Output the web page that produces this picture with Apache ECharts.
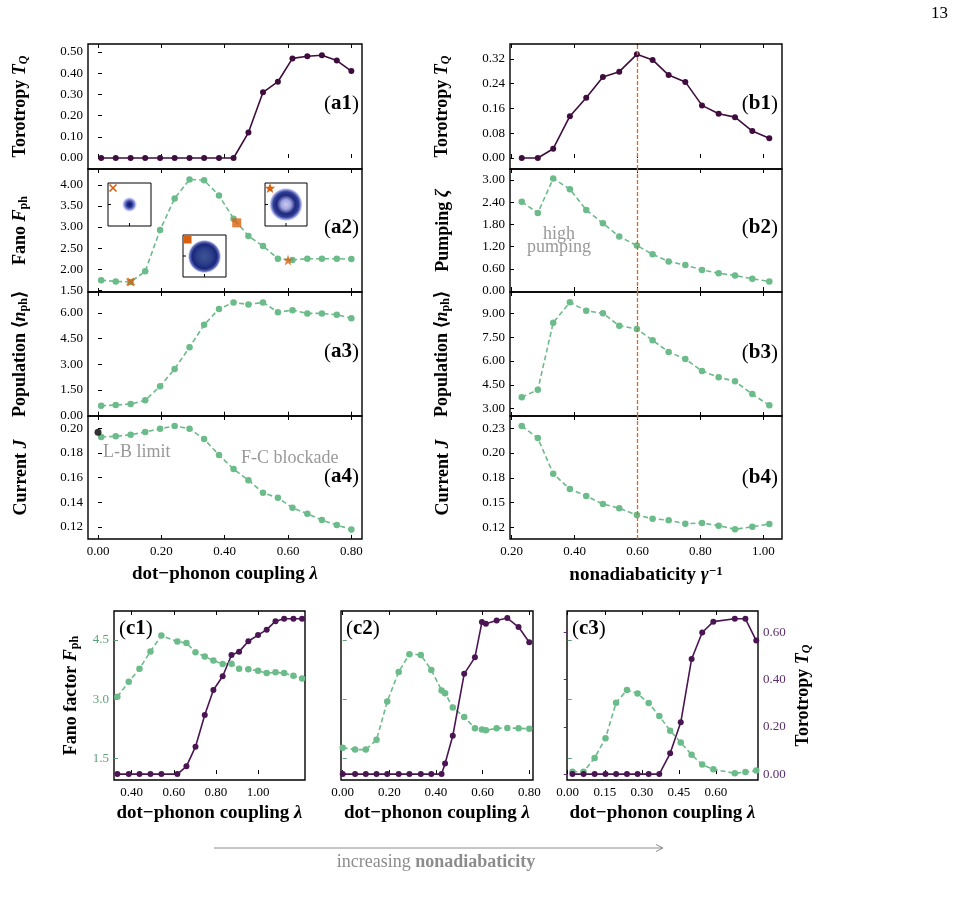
<!DOCTYPE html>
<html lang="en">
<head>
<meta charset="UTF-8">
<title>Torotropy panels</title>
<style>
    html, body { margin: 0; padding: 0; background: #fff; }
    #chart { width: 955px; height: 897px; }
</style>
</head>
<body>
<div id="chart"></div>
<script src="https://cdn.jsdelivr.net/npm/echarts@6/dist/echarts.min.js"></script>
<script>
// ---- data: column a (vs dot-phonon coupling) ----
var aLambda = [0.01, 0.056, 0.103, 0.149, 0.196, 0.242, 0.289, 0.335, 0.382, 0.428, 0.475, 0.521, 0.568, 0.614, 0.661, 0.707, 0.754, 0.80];
var aTorotropy = [0, 0, 0, 0, 0, 0, 0, 0, 0, 0, 0.12, 0.31, 0.36, 0.47, 0.48, 0.485, 0.46, 0.41];
var aFano = [1.74, 1.71, 1.70, 1.95, 2.93, 3.68, 4.13, 4.11, 3.75, 3.20, 2.79, 2.55, 2.25, 2.22, 2.25, 2.25, 2.25, 2.24];
var aPopulation = [0.58, 0.62, 0.68, 0.90, 1.72, 2.73, 4.00, 5.31, 6.24, 6.62, 6.50, 6.62, 6.05, 6.17, 5.98, 5.98, 5.90, 5.70];
var aCurrent = [0.1930, 0.1935, 0.1948, 0.1970, 0.1997, 0.2019, 0.1997, 0.1913, 0.1784, 0.1670, 0.1580, 0.1477, 0.1437, 0.1356, 0.1307, 0.1256, 0.1216, 0.1180];
var lbLimit = [0.0, 0.1968];
var stateCross = [0.103, 1.70];
var stateSquare = [0.438, 3.10];
var stateStar = [0.60, 2.22];

// ---- data: column b (vs nonadiabaticity) ----
var bGammaInv = [0.232, 0.283, 0.332, 0.385, 0.437, 0.490, 0.542, 0.598, 0.648, 0.699, 0.752, 0.805, 0.858, 0.910, 0.965, 1.019];
var bTorotropy = [0, 0, 0.030, 0.135, 0.195, 0.262, 0.279, 0.335, 0.317, 0.268, 0.246, 0.170, 0.143, 0.132, 0.087, 0.064];
var bPumping = [2.41, 2.11, 3.04, 2.75, 2.19, 1.83, 1.47, 1.23, 0.99, 0.80, 0.70, 0.57, 0.48, 0.42, 0.33, 0.26];
var bPopulation = [3.72, 4.19, 8.41, 9.69, 9.16, 9.00, 8.22, 8.01, 7.30, 6.57, 6.13, 5.37, 4.98, 4.72, 3.92, 3.21];
var bCurrent = [0.2273, 0.2152, 0.1791, 0.1636, 0.1566, 0.1485, 0.1442, 0.1374, 0.1337, 0.1321, 0.1287, 0.1294, 0.1267, 0.1230, 0.1256, 0.1283];
var bMarkedGamma = 0.6;

// ---- data: row c ----
var c1Lambda = [0.332, 0.386, 0.437, 0.489, 0.541, 0.617, 0.660, 0.703, 0.747, 0.788, 0.832, 0.874, 0.910, 0.954, 1.000, 1.041, 1.083, 1.124, 1.168, 1.209];
var c1Fano = [3.06, 3.44, 3.77, 4.21, 4.61, 4.46, 4.42, 4.19, 4.08, 3.98, 3.89, 3.90, 3.77, 3.76, 3.72, 3.66, 3.68, 3.66, 3.59, 3.52];
var c1Torotropy = [0, 0, 0, 0, 0, 0, 0.033, 0.116, 0.250, 0.356, 0.414, 0.504, 0.518, 0.562, 0.588, 0.611, 0.647, 0.657, 0.657, 0.657];

var c2Lambda = [0, 0.053, 0.099, 0.145, 0.191, 0.240, 0.286, 0.335, 0.380, 0.424, 0.439, 0.472, 0.521, 0.567, 0.597, 0.614, 0.660, 0.706, 0.754, 0.80];
var c2Fano = [1.77, 1.72, 1.72, 1.97, 2.94, 3.69, 4.14, 4.12, 3.74, 3.22, 3.15, 2.79, 2.55, 2.26, 2.23, 2.21, 2.26, 2.27, 2.26, 2.25];
var c2Torotropy = [0, 0, 0, 0, 0, 0, 0, 0, 0, 0, 0.045, 0.162, 0.424, 0.494, 0.643, 0.636, 0.650, 0.660, 0.622, 0.558];

var c3Lambda = [0.019, 0.064, 0.109, 0.153, 0.196, 0.240, 0.283, 0.328, 0.371, 0.415, 0.458, 0.502, 0.545, 0.590, 0.677, 0.720, 0.764];
var c3Fano = [1.16, 1.16, 1.51, 2.01, 2.91, 3.23, 3.14, 2.90, 2.57, 2.20, 1.90, 1.59, 1.34, 1.22, 1.12, 1.15, 1.19];
var c3Torotropy = [0, 0, 0, 0, 0, 0, 0, 0, 0, 0.088, 0.219, 0.487, 0.599, 0.645, 0.657, 0.657, 0.565];

// ---- tick values ----
var aLambdaTicks = [0, 0.2, 0.4, 0.6, 0.8];
var aTorTicks = [0, 0.1, 0.2, 0.3, 0.4, 0.5];
var aFanoTicks = [1.5, 2.0, 2.5, 3.0, 3.5, 4.0];
var aPopTicks = [0, 1.5, 3.0, 4.5, 6.0];
var aCurTicks = [0.12, 0.14, 0.16, 0.18, 0.20];
var bGammaTicks = [0.2, 0.4, 0.6, 0.8, 1.0];
var bTorTicks = [0, 0.08, 0.16, 0.24, 0.32];
var bPumpTicks = [0, 0.6, 1.2, 1.8, 2.4, 3.0];
var bPopTicks = [3.0, 4.5, 6.0, 7.5, 9.0];
var bCurTicks = [0.125, 0.15, 0.175, 0.2, 0.225];
var bCurLabels = ['0.12', '0.15', '0.18', '0.20', '0.23'];
var c1LambdaTicks = [0.4, 0.6, 0.8, 1.0];
var c2LambdaTicks = [0, 0.2, 0.4, 0.6, 0.8];
var c3LambdaTicks = [0, 0.15, 0.30, 0.45, 0.60];
var cFanoTicks = [1.5, 3.0, 4.5];
var cTorTicks = [0, 0.2, 0.4, 0.6];

var FONT = 'Liberation Serif';
var GREEN = '#6cbb8a';
var GREEN_TXT = '#5f9f78';
var PURPLE = '#3e0d3e';
var PURPLE_C = '#4a1552';
var PURPLE_TXT = '#5b2d6b';
var ORANGE = '#d9600f';
var GRAY = '#999999';

function zip(xs, ys) {
    return xs.map(function (x, i) { return [x, ys[i]]; });
}
function fmt2(v) { return v.toFixed(2); }
function fmt1(v) { return v.toFixed(1); }

function nameStyle(size) {
    var s = size;
    var sub = Math.round(s * 0.68);
    return {
        fontFamily: FONT, fontSize: s, fontWeight: 'bold', color: '#000',
        rich: {
            b: {fontFamily: FONT, fontSize: s, fontWeight: 'bold', color: '#000'},
            i: {fontFamily: FONT, fontSize: s, fontStyle: 'italic', color: '#000'},
            m: {fontFamily: FONT, fontSize: s, color: '#000'},
            s: {fontFamily: FONT, fontSize: sub, color: '#000', verticalAlign: 'bottom', padding: [7, 0, 0, 0]},
            si: {fontFamily: FONT, fontSize: sub, fontStyle: 'italic', color: '#000', verticalAlign: 'bottom', padding: [7, 0, 0, 0]},
            sup: {fontFamily: FONT, fontSize: sub, color: '#000', verticalAlign: 'top', padding: [0, 0, 7, 0]}
        }
    };
}

var grids = [], xAxes = [], yAxes = [], series = [], graphics = [];

function addGrid(left, top, width, height) {
    grids.push({show: true, left: left, top: top, width: width, height: height,
        borderColor: '#000', borderWidth: 1.4, backgroundColor: 'transparent'});
    return grids.length - 1;
}

function addX(gi, min, max, ticks, o) {
    o = o || {};
    var tick = {show: true, inside: true, length: 4, customValues: ticks, lineStyle: {color: '#000', width: 1}};
    xAxes.push({
        gridIndex: gi, type: 'value', position: 'bottom', min: min, max: max,
        splitLine: {show: false}, axisLine: {show: false}, axisTick: tick,
        axisLabel: {show: !!o.labels, customValues: ticks, formatter: o.formatter || fmt2,
            fontFamily: FONT, fontSize: 13, color: '#000', margin: 6},
        name: o.name || '', nameLocation: 'middle', nameGap: o.nameGap || 26, nameTextStyle: nameStyle(19)
    });
    var idx = xAxes.length - 1;
    xAxes.push({
        gridIndex: gi, type: 'value', position: 'top', min: min, max: max,
        splitLine: {show: false}, axisLine: {show: false}, axisTick: tick, axisLabel: {show: false}
    });
    return idx;
}

function addY(gi, min, max, ticks, o) {
    o = o || {};
    var fmt = o.formatter || fmt2;
    yAxes.push({
        gridIndex: gi, type: 'value', position: o.position || 'left', min: min, max: max,
        splitLine: {show: false}, axisLine: {show: false},
        axisTick: {show: true, inside: true, length: 4, customValues: ticks,
            lineStyle: {color: o.tickColor || '#000', width: 1}},
        axisLabel: {show: o.labels !== false, customValues: ticks, formatter: fmt,
            fontFamily: FONT, fontSize: 13, color: o.labelColor || '#000', margin: 5},
        name: o.name || '', nameLocation: 'middle', nameRotate: 90, nameGap: o.nameGap || 58,
        nameTextStyle: nameStyle(18)
    });
    return yAxes.length - 1;
}

function solid(xi, yi, data, color) {
    series.push({type: 'line', xAxisIndex: xi, yAxisIndex: yi, data: data, silent: true,
        symbol: 'circle', symbolSize: 6, showSymbol: true, z: 3,
        lineStyle: {color: color, width: 1.6}, itemStyle: {color: color}});
    return series[series.length - 1];
}
function dashed(xi, yi, data) {
    series.push({type: 'line', xAxisIndex: xi, yAxisIndex: yi, data: data, silent: true,
        symbol: 'circle', symbolSize: 6.5, showSymbol: true, z: 3,
        lineStyle: {color: GREEN, width: 1.6, type: [5, 3]}, itemStyle: {color: GREEN}});
    return series[series.length - 1];
}
function marker(xi, yi, point, symbol, size, color) {
    series.push({type: 'scatter', xAxisIndex: xi, yAxisIndex: yi, data: [point], silent: true,
        symbol: symbol, symbolSize: size, z: 5, itemStyle: {color: color}});
}

var CROSS = 'path://M2,0 L5,3 L8,0 L10,2 L7,5 L10,8 L8,10 L5,7 L2,10 L0,8 L3,5 L0,2 Z';
var STAR = 'path://M50,0 L61,35 L98,35 L68,57 L79,91 L50,70 L21,91 L32,57 L2,35 L39,35 Z';

// ---- column a ----
var aX = [-0.0316, 0.8336];
var aTop = [44, 169, 292, 416], aH = [125, 123, 124, 123];
var ga = aTop.map(function (t, i) { return addGrid(88, t, 274, aH[i]); });
var xa1 = addX(ga[0], aX[0], aX[1], aLambdaTicks);
var xa2 = addX(ga[1], aX[0], aX[1], aLambdaTicks);
var xa3 = addX(ga[2], aX[0], aX[1], aLambdaTicks);
var xa4 = addX(ga[3], aX[0], aX[1], aLambdaTicks, {labels: true, name: '{b|dot−phonon coupling }{i|λ}'});
var ya1 = addY(ga[0], -0.052, 0.538, aTorTicks, {name: '{b|Torotropy }{i|T}{si|Q}'});
var ya2 = addY(ga[1], 1.46, 4.377, aFanoTicks, {name: '{b|Fano }{i|F}{s|ph}'});
var ya3 = addY(ga[2], -0.02, 7.23, aPopTicks, {name: '{b|Population }{m|⟨}{i|n}{s|ph}{m|⟩}'});
var ya4 = addY(ga[3], 0.1103, 0.21, aCurTicks, {name: '{b|Current }{i|J}'});

solid(xa1, ya1, zip(aLambda, aTorotropy), PURPLE);
dashed(xa2, ya2, zip(aLambda, aFano));
dashed(xa3, ya3, zip(aLambda, aPopulation));
dashed(xa4, ya4, zip(aLambda, aCurrent));
marker(xa2, ya2, stateCross, CROSS, 9, ORANGE);
marker(xa2, ya2, stateSquare, 'rect', 9, ORANGE);
marker(xa2, ya2, stateStar, STAR, 11, ORANGE);
marker(xa4, ya4, lbLimit, 'circle', 7, '#000');

// ---- column b ----
var bX = [0.1946, 1.0594];
var gb = aTop.map(function (t, i) { return addGrid(510, t, 272, aH[i]); });
var xb1 = addX(gb[0], bX[0], bX[1], bGammaTicks);
var xb2 = addX(gb[1], bX[0], bX[1], bGammaTicks);
var xb3 = addX(gb[2], bX[0], bX[1], bGammaTicks);
var xb4 = addX(gb[3], bX[0], bX[1], bGammaTicks, {labels: true, name: '{b|nonadiabaticity }{i|γ}{sup|−1}'});
var yb1 = addY(gb[0], -0.0356, 0.3685, bTorTicks, {name: '{b|Torotropy }{i|T}{si|Q}'});
var yb2 = addY(gb[1], -0.027, 3.297, bPumpTicks, {name: '{b|Pumping }{i|ζ}'});
var yb3 = addY(gb[2], 2.54, 10.34, bPopTicks, {name: '{b|Population }{m|⟨}{i|n}{s|ph}{m|⟩}'});
var yb4 = addY(gb[3], 0.1132, 0.2374, bCurTicks, {name: '{b|Current }{i|J}',
    formatter: function (v) { return bCurLabels[bCurTicks.indexOf(v)] || fmt2(v); }});

var vline = {silent: true, symbol: ['none', 'none'], label: {show: false},
    lineStyle: {type: [4, 2], color: '#e06a14', width: 1.3, opacity: 1}, data: [{xAxis: bMarkedGamma}]};
solid(xb1, yb1, zip(bGammaInv, bTorotropy), PURPLE).markLine = vline;
dashed(xb2, yb2, zip(bGammaInv, bPumping)).markLine = vline;
dashed(xb3, yb3, zip(bGammaInv, bPopulation)).markLine = vline;
dashed(xb4, yb4, zip(bGammaInv, bCurrent)).markLine = vline;

// ---- row c ----
var cFanoRange = [0.95, 5.234], cTorRange = [-0.025, 0.690];
var gc1 = addGrid(114, 611, 191, 169);
var gc2 = addGrid(341, 611, 192, 169);
var gc3 = addGrid(567, 611, 191, 169);
var cName = '{b|dot−phonon coupling }{i|λ}';
var xc1 = addX(gc1, 0.316, 1.223, c1LambdaTicks, {labels: true, name: cName, nameGap: 24});
var xc2 = addX(gc2, -0.0073, 0.816, c2LambdaTicks, {labels: true, name: cName, nameGap: 24});
var xc3 = addX(gc3, -0.003, 0.771, c3LambdaTicks, {labels: true, name: cName, nameGap: 24});
var yc1 = addY(gc1, cFanoRange[0], cFanoRange[1], cFanoTicks, {formatter: fmt1, labelColor: GREEN_TXT, tickColor: GREEN_TXT,
    name: '{b|Fano factor }{i|F}{s|ph}', nameGap: 33});
var yc1r = addY(gc1, cTorRange[0], cTorRange[1], cTorTicks, {position: 'right', labels: false, tickColor: 'transparent'});
var yc2 = addY(gc2, cFanoRange[0], cFanoRange[1], cFanoTicks, {labels: false, tickColor: GREEN_TXT});
var yc2r = addY(gc2, cTorRange[0], cTorRange[1], cTorTicks, {position: 'right', labels: false, tickColor: 'transparent'});
var yc3 = addY(gc3, cFanoRange[0], cFanoRange[1], cFanoTicks, {labels: false, tickColor: GREEN_TXT});
var yc3r = addY(gc3, cTorRange[0], cTorRange[1], cTorTicks, {position: 'right', labelColor: PURPLE_TXT, tickColor: PURPLE_TXT,
    name: '{b|Torotropy }{i|T}{si|Q}', nameGap: 36});

dashed(xc1, yc1, zip(c1Lambda, c1Fano));
solid(xc1, yc1r, zip(c1Lambda, c1Torotropy), PURPLE_C);
dashed(xc2, yc2, zip(c2Lambda, c2Fano));
solid(xc2, yc2r, zip(c2Lambda, c2Torotropy), PURPLE_C);
dashed(xc3, yc3, zip(c3Lambda, c3Fano));
solid(xc3, yc3r, zip(c3Lambda, c3Torotropy), PURPLE_C);

// ---- annotations ----
function panelLabel(x, y, tag, align) {
    graphics.push({type: 'text', x: x, y: y, z: 50, silent: true, style: {
        text: '{p|(}{b|' + tag + '}{p|)}', align: align, verticalAlign: 'middle',
        rich: {p: {fontFamily: FONT, fontSize: 21, fill: '#000'},
            b: {fontFamily: FONT, fontSize: 21, fontWeight: 'bold', fill: '#000'}}
    }});
}
panelLabel(359, 104, 'a1', 'right');
panelLabel(359, 228, 'a2', 'right');
panelLabel(359, 352, 'a3', 'right');
panelLabel(359, 477, 'a4', 'right');
panelLabel(778, 104, 'b1', 'right');
panelLabel(778, 228, 'b2', 'right');
panelLabel(778, 353, 'b3', 'right');
panelLabel(778, 478, 'b4', 'right');
panelLabel(119, 629, 'c1', 'left');
panelLabel(346, 629, 'c2', 'left');
panelLabel(572, 629, 'c3', 'left');

function note(x, y, text, align, extra) {
    graphics.push({type: 'text', x: x, y: y, z: 50, silent: true, style: Object.assign({
        text: text, align: align, verticalAlign: 'middle', fontFamily: FONT, fontSize: 18, fill: GRAY
    }, extra || {})});
}
note(103, 452, 'L-B limit', 'left');
note(241, 458, 'F-C blockade', 'left');
note(559, 234, 'high', 'center');
note(559, 247, 'pumping', 'center');
note(948, 14, '13', 'right', {fill: '#000', fontSize: 17});

// insets in (a2)
function inset(x, y, w, h, cx, cy, r, stops) {
    graphics.push({type: 'rect', z: 40, silent: true, shape: {x: x, y: y, width: w, height: h},
        style: {fill: '#fff', stroke: '#000', lineWidth: 1}});
    graphics.push({type: 'circle', z: 41, silent: true, shape: {cx: cx, cy: cy, r: r},
        style: {fill: {type: 'radial', x: 0.5, y: 0.5, r: 0.5, colorStops: stops}}});
    graphics.push({type: 'line', z: 42, silent: true, shape: {x1: x + w / 2, y1: y + h, x2: x + w / 2, y2: y + h - 3},
        style: {stroke: '#000', lineWidth: 1}});
    graphics.push({type: 'line', z: 42, silent: true, shape: {x1: x, y1: y + h / 2, x2: x + 3, y2: y + h / 2},
        style: {stroke: '#000', lineWidth: 1}});
}
inset(108, 183, 43, 43, 129.5, 204.5, 8, [
    {offset: 0, color: '#0b1258'}, {offset: 0.35, color: '#26379a'},
    {offset: 0.7, color: '#9aa2e0'}, {offset: 1, color: 'rgba(240,240,255,0)'}]);
inset(183, 235, 43, 42, 204.5, 256.5, 17, [
    {offset: 0, color: '#3d5592'}, {offset: 0.45, color: '#2c3f8a'},
    {offset: 0.72, color: '#1a267a'}, {offset: 0.88, color: '#6673c0'}, {offset: 1, color: 'rgba(235,235,255,0)'}]);
inset(265, 183, 42, 43, 286, 204.5, 17, [
    {offset: 0, color: '#c9c9f2'}, {offset: 0.28, color: '#a2a6e0'},
    {offset: 0.55, color: '#1c287c'}, {offset: 0.75, color: '#2f3e98'},
    {offset: 0.9, color: '#a9aee6'}, {offset: 1, color: 'rgba(240,240,255,0)'}]);

// small state markers inside the insets
graphics.push({type: 'line', z: 45, silent: true, shape: {x1: 109.5, y1: 184.5, x2: 116.5, y2: 191.5}, style: {stroke: ORANGE, lineWidth: 1.6}});
graphics.push({type: 'line', z: 45, silent: true, shape: {x1: 116.5, y1: 184.5, x2: 109.5, y2: 191.5}, style: {stroke: ORANGE, lineWidth: 1.6}});
graphics.push({type: 'rect', z: 45, silent: true, shape: {x: 183.5, y: 235.5, width: 8, height: 8}, style: {fill: ORANGE}});
(function () {
    var pts = [], cx = 270, cy = 188.5, R = 5.5, r = 2.3;
    for (var k = 0; k < 10; k++) {
        var ang = -Math.PI / 2 + k * Math.PI / 5, rr = k % 2 ? r : R;
        pts.push([cx + rr * Math.cos(ang), cy + rr * Math.sin(ang)]);
    }
    graphics.push({type: 'polygon', z: 45, silent: true, shape: {points: pts}, style: {fill: ORANGE}});
})();

// arrow under row c
graphics.push({type: 'line', z: 10, silent: true, shape: {x1: 214, y1: 848, x2: 663, y2: 848}, style: {stroke: '#8c8c8c', lineWidth: 1}});
graphics.push({type: 'polyline', z: 10, silent: true, shape: {points: [[656, 844.5], [663, 848], [656, 851.5]]}, style: {stroke: '#8c8c8c', lineWidth: 1, fill: null}});
graphics.push({type: 'text', x: 436, y: 862, z: 10, silent: true, style: {
    text: '{n|increasing }{b|nonadiabaticity}', align: 'center', verticalAlign: 'middle',
    rich: {n: {fontFamily: FONT, fontSize: 18, fill: '#8c8c8c'},
        b: {fontFamily: FONT, fontSize: 18, fontWeight: 'bold', fill: '#8c8c8c'}}
}});

var option = {
    animation: false,
    backgroundColor: '#fff',
    grid: grids,
    xAxis: xAxes,
    yAxis: yAxes,
    series: series,
    graphic: graphics
};

var myChart = echarts.init(document.getElementById('chart'));
myChart.setOption(option);
</script>
</body>
</html>
